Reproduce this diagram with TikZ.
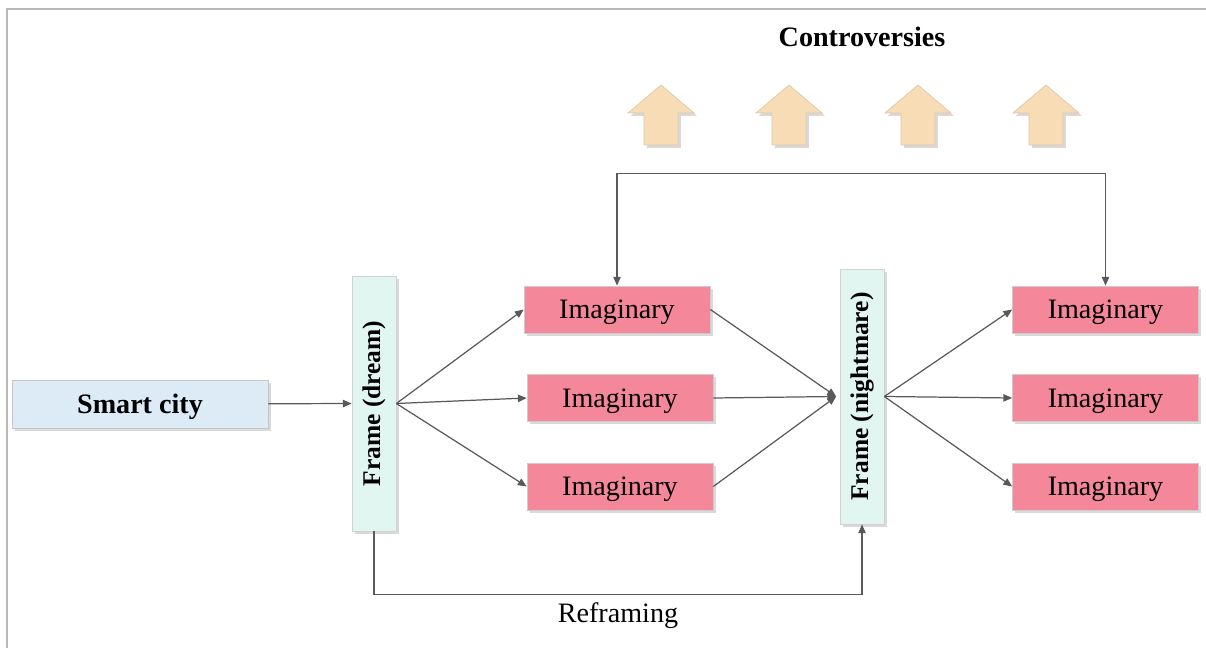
\documentclass[tikz,border=0pt]{standalone}
\usepackage{fontspec}
\setmainfont{Liberation Serif}
\usetikzlibrary{arrows.meta, shadows, positioning}
\definecolor{cityblue}{HTML}{DDEBF7}
\definecolor{framemint}{HTML}{E2F6F1}
\definecolor{imagpink}{HTML}{F4879A}
\definecolor{controtan}{HTML}{F7DCB5}
\definecolor{linkgray}{HTML}{595959}
\tikzset{
	boxshadow/.style={
			drop shadow={shadow xshift=1.6pt, shadow yshift=-1.6pt, opacity=0.3}
		},
	citynode/.style={
			rectangle,
			draw=gray!45,
			fill=cityblue,
			boxshadow,
			minimum width=5.12cm,
			minimum height=0.96cm,
			inner sep=0pt,
			text depth=0pt,
			font=\fontsize{16}{19}\selectfont\bfseries
		},
	framenode/.style={
			rectangle,
			draw=gray!35,
			fill=framemint,
			boxshadow,
			minimum width=0.88cm,
			minimum height=5.1cm,
			inner sep=0pt,
			font=\fontsize{14.5}{17}\selectfont\bfseries
		},
	imagnode/.style={
			rectangle,
			draw=gray!40,
			fill=imagpink,
			boxshadow,
			minimum width=3.72cm,
			minimum height=0.94cm,
			inner sep=0pt,
			text depth=0pt,
			font=\fontsize{16}{19}\selectfont
		},
	contro/.style={
			draw=controtan!80!gray,
			fill=controtan,
			boxshadow
		},
	link/.style={
			draw=linkgray,
			line width=0.7pt,
			-{Triangle[length=5pt,width=4.2pt]}
		}
}

\begin{document}
\begin{tikzpicture}[x=0.02cm, y=-0.02cm]
\useasboundingbox (0,0) rectangle (1206,648);
\draw[gray!55, line width=0.035cm] (7,648) -- (7,9) -- (1206,9);

\node[font=\fontsize{16}{19}\selectfont\bfseries] (title) at (862,37) {Controversies};
\foreach \x [count=\i] in {661,789,918,1046} {
	\draw[contro] (\x,85) -- (\x+33,113) -- (\x+17,113) -- (\x+17,145)
		-- (\x-17,145) -- (\x-17,113) -- (\x-33,113) -- cycle;
}

\node[citynode] (city) at (140,404) {Smart city};
\node[framenode] (dream) at (374,403.5) {\rotatebox{90}{Frame (dream)}};
\node[framenode] (night) at (862,396.5) {\rotatebox{90}{Frame (nightmare)}};

\node[imagnode] (a1) at (617,309.5) {Imaginary};
\node[imagnode] (a2) at (620,398) {Imaginary};
\node[imagnode] (a3) at (620,486.5) {Imaginary};
\node[imagnode] (b1) at (1105.5,309.5) {Imaginary};
\node[imagnode] (b2) at (1105.5,398) {Imaginary};
\node[imagnode] (b3) at (1105.5,486.5) {Imaginary};

\draw[link] (city) -- (dream);
\draw[link] (dream.east) -- (a1.west);
\draw[link] (dream.east) -- (a2.west);
\draw[link] (dream.east) -- (a3.west);

\draw[link] (a1.east) -- ([xshift=-2pt]night.west);
\draw[link] (a2.east) -- ([xshift=-2pt]night.west);
\draw[link] (a3.east) -- ([xshift=-2pt]night.west);

\draw[link] (night.east) -- (b1.west);
\draw[link] (night.east) -- (b2.west);
\draw[link] (night.east) -- (b3.west);

% feedback over the top and reframing below
\draw[link, {Triangle[length=5pt,width=4.2pt]}-{Triangle[length=5pt,width=4.2pt]}]
	(a1.north) -- ++(0,-112) -| (b1.north);
\draw[link] (dream.south) -- ++(0,63) -| (night.south);
\node[font=\fontsize{16}{19}\selectfont] (refr) at (618,616) {Reframing};

\end{tikzpicture}
\end{document}
